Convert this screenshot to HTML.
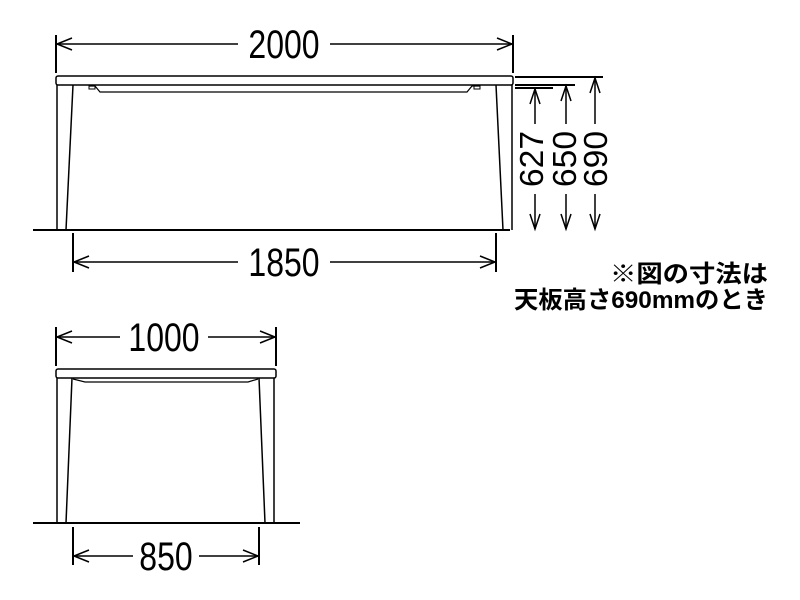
<!DOCTYPE html>
<html><head><style>body{margin:0;background:#fff}svg{display:block}</style></head><body>
<svg width="800" height="600" viewBox="0 0 800 600" xmlns="http://www.w3.org/2000/svg">
<g stroke="#000" fill="none" stroke-width="2">
<line x1="33" y1="230" x2="510" y2="230"/>
<rect x="56" y="76" width="457" height="9" rx="2" stroke-width="1.5"/>
<line x1="57" y1="85" x2="57" y2="230" stroke-width="1.5"/>
<line x1="73" y1="85" x2="66" y2="230" stroke-width="1.5"/>
<line x1="512" y1="85" x2="512" y2="230" stroke-width="1.5"/>
<line x1="496" y1="85" x2="503" y2="230" stroke-width="1.5"/>
<path d="M89 86 L95 86 L100 92 L467 92 L472 86 L480 86" stroke-width="1.2"/>
<rect x="89" y="86" width="6" height="3" stroke-width="1"/>
<rect x="474" y="86" width="6" height="3" stroke-width="1"/>
<line x1="56" y1="35" x2="56" y2="73"/><line x1="513" y1="35" x2="513" y2="73"/>
<line x1="57" y1="44" x2="238" y2="44" stroke-width="1.5"/><line x1="330" y1="44" x2="512" y2="44" stroke-width="1.5"/>
<path d="M72 38 L57 44 L72 50 M497 38 L512 44 L497 50" stroke-width="1.5"/>
<line x1="73" y1="233" x2="73" y2="272"/><line x1="496" y1="233" x2="496" y2="272"/>
<line x1="74" y1="262" x2="238" y2="262" stroke-width="1.5"/><line x1="330" y1="262" x2="495" y2="262" stroke-width="1.5"/>
<path d="M89 256 L74 262 L89 268 M480 256 L495 262 L480 268" stroke-width="1.5"/>
<line x1="515" y1="77" x2="603" y2="77"/>
<line x1="515" y1="85" x2="575" y2="85"/>
<line x1="515" y1="88" x2="553" y2="88"/>
<g stroke-width="1.5">
<line x1="535" y1="89" x2="535" y2="124"/><line x1="535" y1="194" x2="535" y2="229"/>
<path d="M530 104 L535 89 L540 104 M530 214 L535 229 L540 214"/>
<line x1="566" y1="86" x2="566" y2="124"/><line x1="566" y1="194" x2="566" y2="229"/>
<path d="M561 101 L566 86 L571 101 M561 214 L566 229 L571 214"/>
<line x1="595" y1="78" x2="595" y2="124"/><line x1="595" y1="194" x2="595" y2="229"/>
<path d="M590 93 L595 78 L600 93 M590 214 L595 229 L600 214"/>
</g>
<line x1="33" y1="523" x2="300" y2="523"/>
<rect x="56" y="369" width="220" height="9" rx="2" stroke-width="1.5"/>
<line x1="57" y1="378" x2="57" y2="523" stroke-width="1.5"/>
<line x1="72" y1="378" x2="66" y2="523" stroke-width="1.5"/>
<line x1="274" y1="378" x2="274" y2="523" stroke-width="1.5"/>
<line x1="259" y1="378" x2="265" y2="523" stroke-width="1.5"/>
<path d="M73 379 L85 382 L248 382 L258 379" stroke-width="1.2"/>
<line x1="56" y1="327" x2="56" y2="366"/><line x1="276" y1="327" x2="276" y2="366"/>
<line x1="57" y1="337" x2="120" y2="337" stroke-width="1.5"/><line x1="208" y1="337" x2="275" y2="337" stroke-width="1.5"/>
<path d="M72 331 L57 337 L72 343 M260 331 L275 337 L260 343" stroke-width="1.5"/>
<line x1="73" y1="527" x2="73" y2="565"/><line x1="259" y1="527" x2="259" y2="565"/>
<line x1="74" y1="556" x2="133" y2="556" stroke-width="1.5"/><line x1="199" y1="556" x2="258" y2="556" stroke-width="1.5"/>
<path d="M89 550 L74 556 L89 562 M243 550 L258 556 L243 562" stroke-width="1.5"/>
</g>
<g font-family="'Liberation Sans', sans-serif" font-size="40" fill="#000" text-anchor="middle">
<text transform="translate(284,58) scale(0.8,1)">2000</text>
<text transform="translate(284,276) scale(0.8,1)">1850</text>
<text transform="translate(164,351) scale(0.8,1)">1000</text>
<text transform="translate(166,570) scale(0.8,1)">850</text>
</g>
<g font-family="'Liberation Sans', sans-serif" font-size="33" fill="#000" text-anchor="middle">
<text transform="translate(543,159) rotate(-90) scale(1.02,1)">627</text>
<text transform="translate(576,159) rotate(-90) scale(1.02,1)">650</text>
<text transform="translate(607,159) rotate(-90) scale(1.02,1)">690</text>
</g>
<g font-family="'Liberation Sans','Noto Sans CJK JP',sans-serif" font-size="24" font-weight="bold" fill="#000" text-anchor="end">
<text x="768" y="282" textLength="158" lengthAdjust="spacingAndGlyphs">※図の寸法は</text>
<text x="768" y="308" textLength="254" lengthAdjust="spacingAndGlyphs">天板高さ690mmのとき</text>
</g>
</svg>
</body></html>
